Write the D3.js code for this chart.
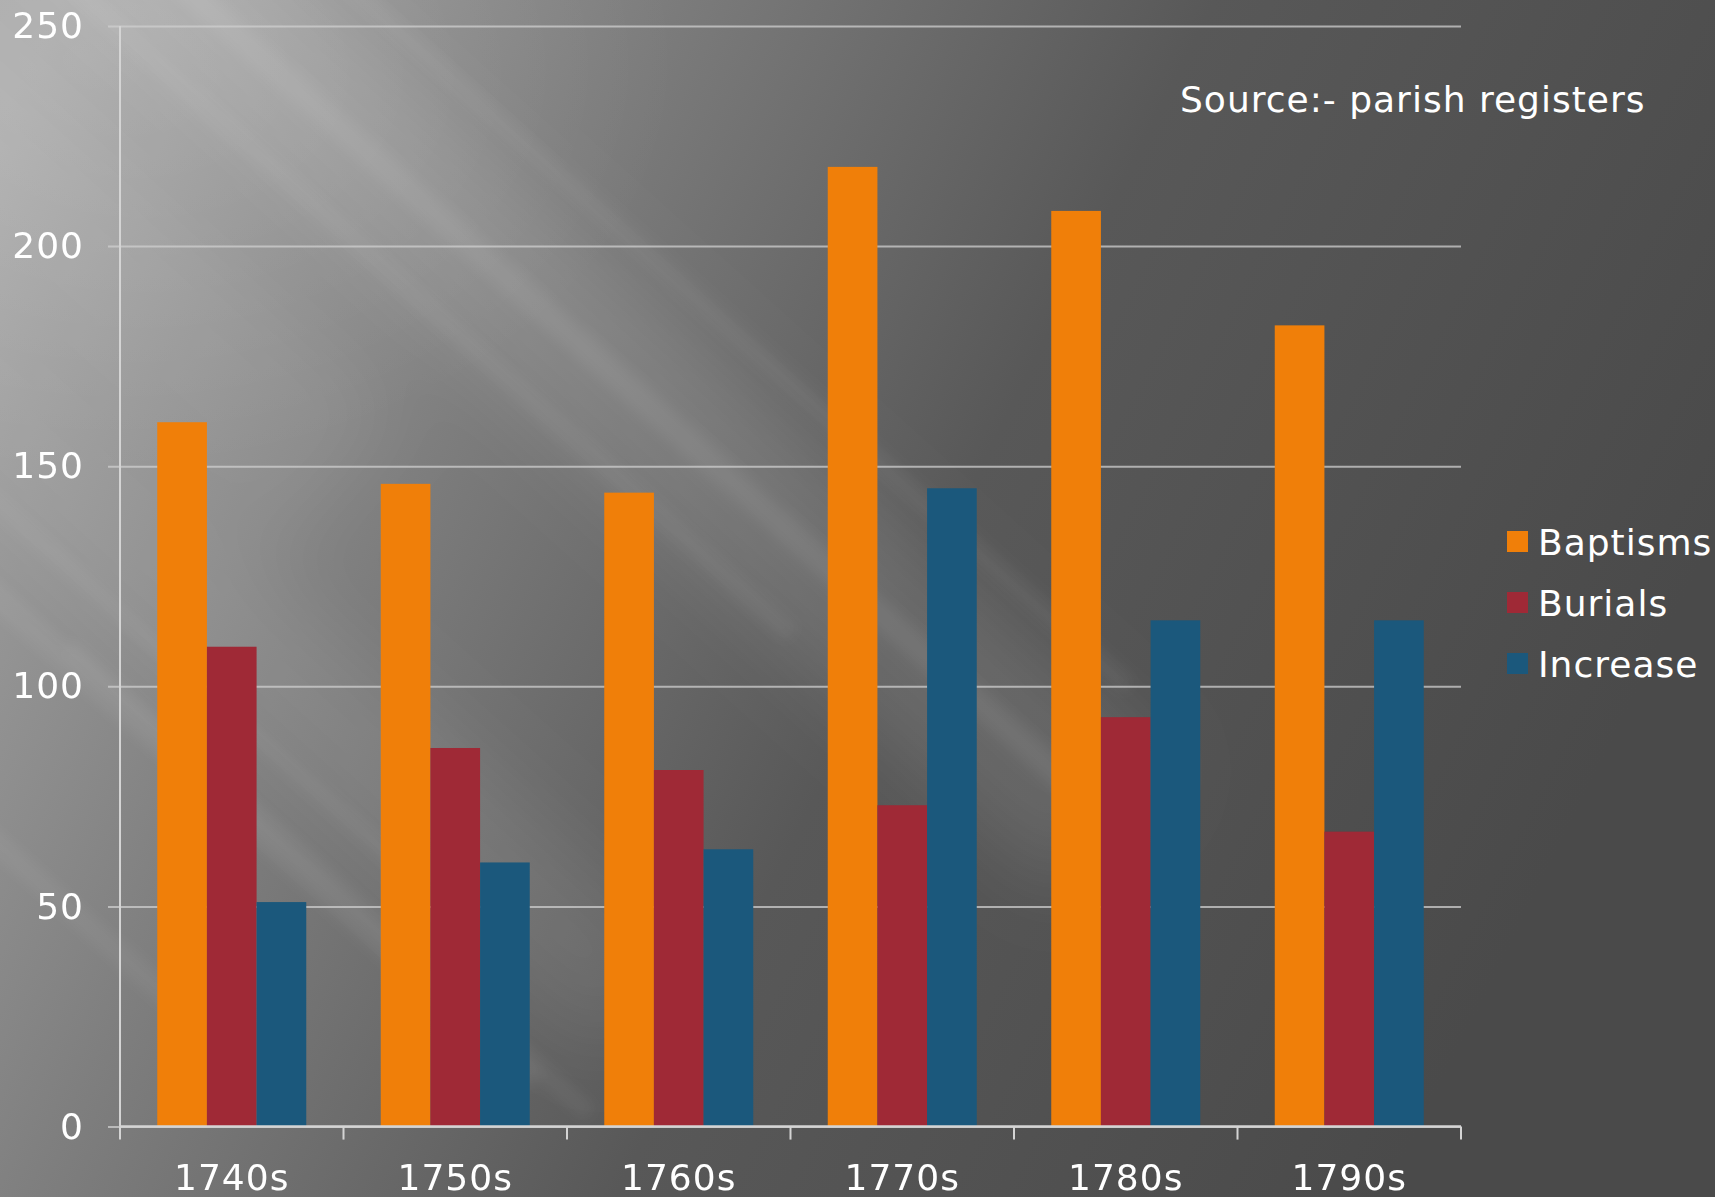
<!DOCTYPE html>
<html>
<head>
<meta charset="utf-8">
<script src="https://cdn.jsdelivr.net/npm/d3@7"></script>
<style>
  body { margin: 0; background: #555; }
  text { font-family: "DejaVu Sans", Verdana, sans-serif; fill: #fff; letter-spacing: 1px; }
</style>
</head>
<body>
<div id="chart"></div>
<script>
// data
var decades = ["1740s", "1750s", "1760s", "1770s", "1780s", "1790s"];
var seriesNames = ["Baptisms", "Burials", "Increase"];
var baptisms = [160, 146, 144, 218, 208, 182];
var burials = [109, 86, 81, 73, 93, 67];
var increase = [51, 60, 63, 145, 115, 115];
var yTicks = [0, 50, 100, 150, 200, 250];
var colors = ["#f07f09", "#9f2936", "#1b587c"];
var sourceNote = "Source:- parish registers";

var W = 1715, H = 1197;
var margin = {left: 120, top: 26, right: 254, bottom: 70};

var svg = d3.select("#chart").append("svg")
    .attr("width", W)
    .attr("height", H);

// background: grey gradient with soft diagonal light streaks
var defs = svg.append("defs");
var bg = defs.append("linearGradient")
    .attr("id", "bg")
    .attr("x1", "0").attr("y1", "0.1").attr("x2", "1").attr("y2", "0.45");
bg.append("stop").attr("offset", "0%").attr("stop-color", "#a6a6a6");
bg.append("stop").attr("offset", "30%").attr("stop-color", "#7e7e7e");
bg.append("stop").attr("offset", "60%").attr("stop-color", "#585858");
bg.append("stop").attr("offset", "100%").attr("stop-color", "#4a4a4a");

function blurFilter(id, sd) {
  defs.append("filter").attr("id", id)
    .attr("filterUnits", "userSpaceOnUse")
    .attr("x", 0).attr("y", 0).attr("width", W).attr("height", H)
    .append("feGaussianBlur").attr("stdDeviation", sd);
}
blurFilter("blurWide", 40);
blurFilter("blurThin", 7);

svg.append("rect").attr("width", W).attr("height", H).attr("fill", "url(#bg)");

// top-left glow
var glow = defs.append("radialGradient").attr("id", "glow")
    .attr("cx", "0.05").attr("cy", "0.05").attr("r", "0.35");
glow.append("stop").attr("offset", "0%").attr("stop-color", "#fff").attr("stop-opacity", 0.12);
glow.append("stop").attr("offset", "100%").attr("stop-color", "#fff").attr("stop-opacity", 0);
svg.append("rect").attr("width", W).attr("height", H).attr("fill", "url(#glow)");

function drawStreaks(list, filterId) {
  svg.append("g").attr("filter", "url(#" + filterId + ")")
    .selectAll("rect").data(list).enter().append("rect")
      .attr("x", function(d) { return d.cx - d.len / 2; })
      .attr("y", function(d) { return d.cy - d.w / 2; })
      .attr("width", function(d) { return d.len; })
      .attr("height", function(d) { return d.w; })
      .attr("fill", "#fff")
      .attr("opacity", function(d) { return d.op; })
      .attr("transform", function(d) { return "rotate(42," + d.cx + "," + d.cy + ")"; });
}

drawStreaks([
  {cx: 560, cy: 330, len: 1500, w: 170, op: 0.11},
  {cx: 240, cy: 640, len: 1100, w: 140, op: 0.08},
  {cx: 80, cy: 250, len: 700, w: 200, op: 0.07}
], "blurWide");

drawStreaks([
  {cx: 620, cy: 380, len: 1300, w: 26, op: 0.07},
  {cx: 720, cy: 320, len: 1100, w: 18, op: 0.05},
  {cx: 420, cy: 300, len: 1000, w: 20, op: 0.05},
  {cx: 200, cy: 780, len: 900, w: 24, op: 0.06},
  {cx: 150, cy: 640, len: 700, w: 16, op: 0.05},
  {cx: 330, cy: 880, len: 700, w: 18, op: 0.05},
  {cx: 60, cy: 900, len: 500, w: 22, op: 0.05}
], "blurThin");

// scales
var x0 = d3.scaleBand()
    .domain(decades)
    .range([margin.left, W - margin.right]);

var x1 = d3.scaleBand()
    .domain(seriesNames)
    .range([x0.bandwidth() / 6, x0.bandwidth() * 5 / 6]);

var y = d3.scaleLinear()
    .domain([0, 250])
    .range([H - margin.bottom - 0.4, margin.top]);

var color = d3.scaleOrdinal().domain(seriesNames).range(colors);

// gridlines + y axis
var yAxis = svg.append("g")
    .attr("transform", "translate(" + margin.left + ",0)")
    .call(d3.axisLeft(y).tickValues(yTicks).tickSize(-(W - margin.left - margin.right)).tickPadding(36));
yAxis.select(".domain").remove();
yAxis.selectAll(".tick line")
    .attr("x1", -12)
    .attr("stroke", "#cfcfcf")
    .attr("stroke-opacity", 0.75)
    .attr("stroke-width", 2);
yAxis.selectAll(".tick text")
    .style("font-size", "36px")
    .attr("fill", "#fff");

// bars
var rows = decades.map(function(d, i) {
  return {decade: d, values: [baptisms[i], burials[i], increase[i]]};
});

var groups = svg.selectAll("g.decade")
  .data(rows)
  .enter().append("g")
    .attr("class", "decade")
    .attr("transform", function(d) { return "translate(" + x0(d.decade) + ",0)"; });

groups.selectAll("rect")
  .data(function(d) { return d.values.map(function(v, j) { return {key: seriesNames[j], value: v}; }); })
  .enter().append("rect")
    .attr("x", function(d) { return x1(d.key); })
    .attr("width", x1.bandwidth())
    .attr("y", function(d) { return y(d.value); })
    .attr("height", function(d) { return y(0) - y(d.value); })
    .attr("fill", function(d) { return color(d.key); });

// y axis line
svg.append("line")
    .attr("x1", margin.left).attr("x2", margin.left)
    .attr("y1", y(250)).attr("y2", y(0))
    .attr("stroke", "#d4d4d4").attr("stroke-width", 2);

// x axis with ticks at band edges
var xAxisG = svg.append("g").attr("transform", "translate(0," + y(0) + ")");
xAxisG.append("line")
    .attr("x1", margin.left).attr("x2", W - margin.right)
    .attr("stroke", "#d4d4d4").attr("stroke-width", 2.5);
var edges = decades.map(function(d) { return x0(d); }).concat([x0.range()[1]]);
xAxisG.selectAll("line.tk")
  .data(edges)
  .enter().append("line")
    .attr("class", "tk")
    .attr("x1", function(d) { return d; }).attr("x2", function(d) { return d; })
    .attr("y1", 0).attr("y2", 13)
    .attr("stroke", "#d4d4d4").attr("stroke-width", 2);
xAxisG.selectAll("text")
  .data(decades)
  .enter().append("text")
    .attr("x", function(d) { return x0(d) + x0.bandwidth() / 2; })
    .attr("y", 63)
    .attr("text-anchor", "middle")
    .style("font-size", "36px")
    .text(function(d) { return d; });

// source note
svg.append("text")
    .attr("x", 1180)
    .attr("y", 112)
    .style("font-size", "36px")
    .text(sourceNote);

// legend
var legend = svg.selectAll("g.legend")
  .data(seriesNames)
  .enter().append("g")
    .attr("class", "legend")
    .attr("transform", function(d, i) { return "translate(1507," + (531 + i * 61) + ")"; });
legend.append("rect")
    .attr("width", 21).attr("height", 21)
    .attr("fill", function(d) { return color(d); });
legend.append("text")
    .attr("x", 31)
    .attr("y", 24)
    .style("font-size", "36px")
    .text(function(d) { return d; });
</script>
</body>
</html>
